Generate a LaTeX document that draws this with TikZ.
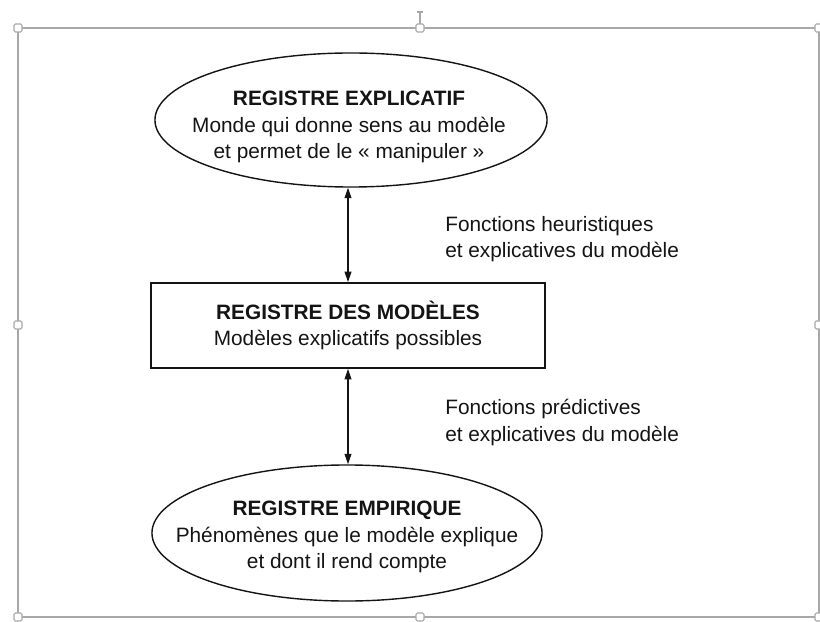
\documentclass[tikz,border=0pt]{standalone}
\usepackage{fontspec}
\setmainfont{Liberation Sans}
\usetikzlibrary{shapes.geometric, arrows.meta}
\definecolor{ink}{HTML}{141414}
\definecolor{frame}{HTML}{A8A8A8}
\tikzset{
  texte/.style = {text=ink, inner sep=0pt, font=\fontsize{14.8}{18.6}\selectfont},
  registre/.style = {draw=ink, line width=1pt, texte, align=center},
  oval/.style = {draw=ink, line width=1pt, ellipse, inner sep=0pt},
  boite/.style = {registre, rectangle, line width=1.2pt},
  legende/.style = {texte, align=left, anchor=west},
  fleche/.style = {draw=ink, line width=0.9pt, {Triangle[length=2.6mm,width=1.7mm]}-{Triangle[length=2.6mm,width=1.7mm]}},
  poignee/.style = {draw=frame, fill=white, line width=0.8pt, rounded corners=1pt}
}

\begin{document}
\begin{tikzpicture}[x=0.025cm, y=-0.025cm]
\useasboundingbox (0,0) rectangle (820,622);

%selection frame
\draw[frame, line width=1pt] (18,28) rectangle (819,617);
\draw[frame, line width=0.8pt] (420,12) -- (420,24) (417,12) -- (423,12);
\foreach \px/\py in {18/28, 420/28, 819/28, 18/325, 819/325, 18/617, 420/617, 819/617}
  \draw[poignee] (\px-4,\py-4) rectangle (\px+4,\py+4);

%registres
\node[oval, minimum width=9.8cm, minimum height=3.35cm] (expl) at (351,120) {};
\node[texte, align=center] (expltxt) at (349,127)
  {\textbf{REGISTRE EXPLICATIF}\\Monde qui donne sens au modèle\\et permet de le « manipuler »};
\node[boite, minimum width=9.85cm, minimum height=2.125cm] (mod) at (348,325.5)
  {\textbf{REGISTRE DES MODÈLES}\\Modèles explicatifs possibles};
\node[oval, minimum width=9.75cm, minimum height=3.4cm] (emp) at (347,533) {};
\node[texte, align=center] (emptxt) at (347,537)
  {\textbf{REGISTRE EMPIRIQUE}\\Phénomènes que le modèle explique\\et dont il rend compte};

%fleches
\draw[fleche] (mod.north |- expl.south) -- (mod.north);
\draw[fleche] (mod.south) -- (mod.south |- emp.north);

%fonctions
\node[legende] (heur) at (445,239.5) {Fonctions heuristiques\\et explicatives du modèle};
\node[legende] (pred) at (445,422.5) {Fonctions prédictives\\et explicatives du modèle};

\end{tikzpicture}
\end{document}
